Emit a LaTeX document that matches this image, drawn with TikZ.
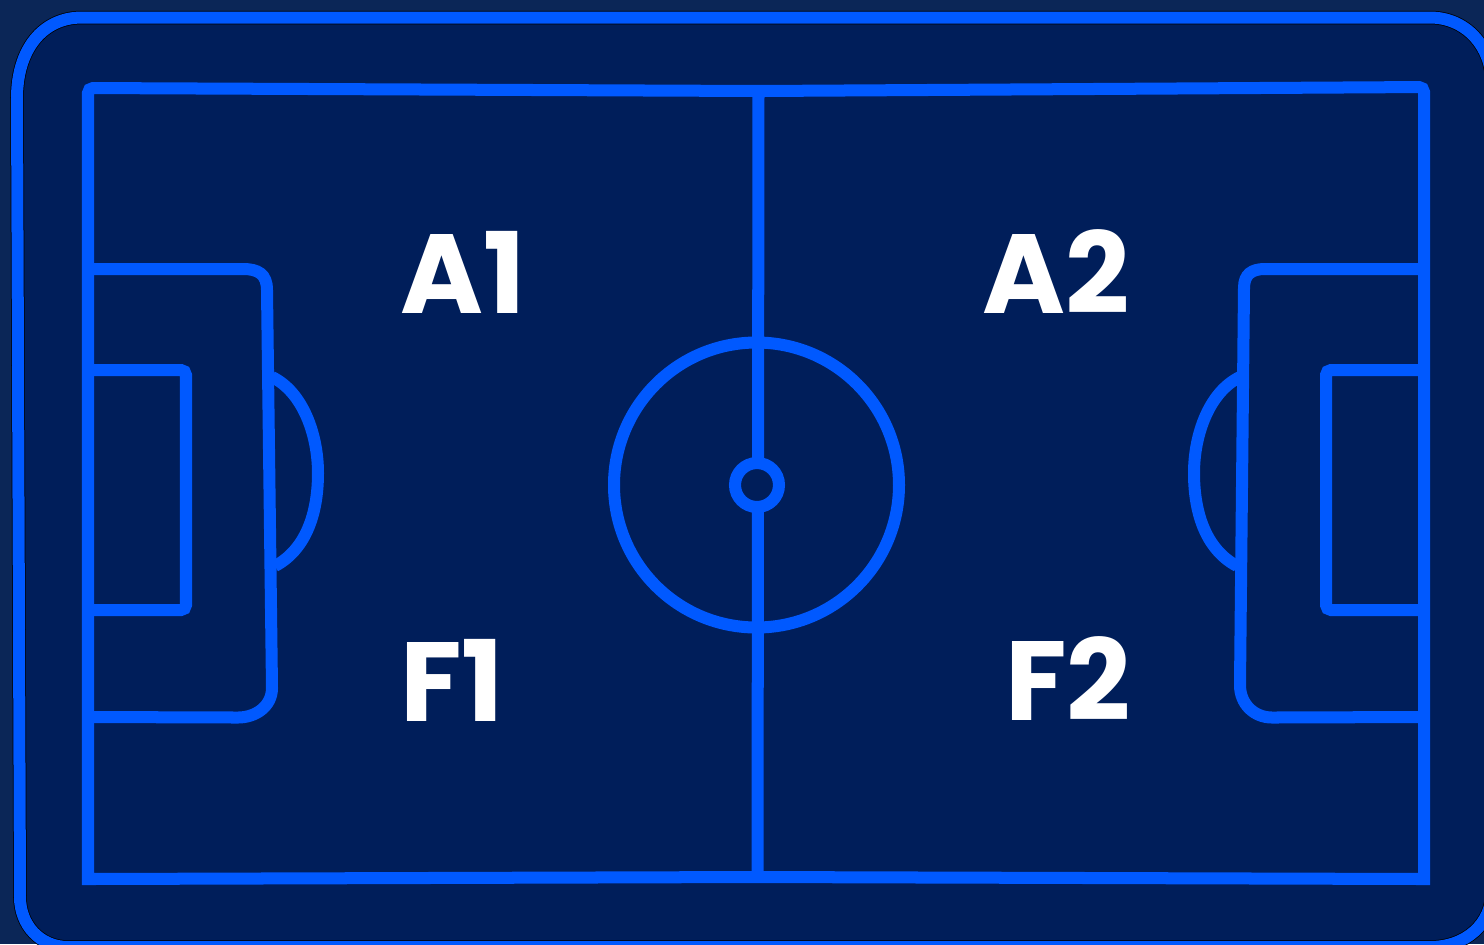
\documentclass[tikz,border=0pt]{standalone}
\usepackage{fontspec}
\setmainfont{Poppins}
\usepackage{tikz}

\definecolor{pagebg}{HTML}{0B2657}
\definecolor{pitchbg}{HTML}{001E5A}
\definecolor{lineblue}{HTML}{0059FF}

\begin{document}
\begin{tikzpicture}[
  x=0.01cm, y=-0.01cm,
  pitchline/.style = {draw=lineblue, line width=0.12cm},
  zonelabel/.style = {anchor=base, inner sep=0pt, text=white,
                      font=\fontsize{32}{36}\selectfont\bfseries},
]

\useasboundingbox (0, 0) rectangle (1484, 944);
\clip (0, 0) rectangle (1484, 944);
\fill[pagebg] (0, 0) rectangle (1484, 944);

%% ══ OUTER FRAME ═════════════════════════════════════════════════════════
\draw[black, line width=0.135cm, fill=pitchbg]
  (82, 17.5) -- (1430, 17.5) .. controls (1465, 17.5) and (1492, 45) .. (1492, 85)
  -- (1492, 890) .. controls (1492, 925) and (1465, 947) .. (1430, 947)
  -- (68, 947) .. controls (40, 947) and (20, 925) .. (20, 897)
  -- (17, 98) .. controls (17, 50) and (42, 17.5) .. (82, 17.5) -- cycle;
\draw[pitchline]
  (82, 17.5) -- (1430, 17.5) .. controls (1465, 17.5) and (1492, 45) .. (1492, 85)
  -- (1492, 890) .. controls (1492, 925) and (1465, 947) .. (1430, 947)
  -- (68, 947) .. controls (40, 947) and (20, 925) .. (20, 897)
  -- (17, 98) .. controls (17, 50) and (42, 17.5) .. (82, 17.5) -- cycle;

%% ══ TOUCH LINES AND HALFWAY LINE ════════════════════════════════════════
\draw[pitchline]
  (88, 879) [rounded corners=0.05cm] -- (88, 88) -- (759, 91) -- (1424, 87)
  [sharp corners] -- (1424, 879) -- (757, 877) -- cycle;
\draw[pitchline] (758.5, 91) -- (757.5, 877);

%% ── Centre circle and spot ───────────────────────────────────────────────
\draw[pitchline] (756.5, 485) circle (142.5);
\draw[pitchline, fill=pitchbg] (757, 485) circle (22);

%% ══ LEFT END ════════════════════════════════════════════════════════════
\draw[pitchline]
  (88, 269) -- (243, 269) .. controls (258, 269) and (267, 274) .. (267, 290)
  -- (272, 688) .. controls (272, 706) and (256, 717.5) .. (238, 717.5) -- (88, 717);
\draw[pitchline, rounded corners=0.05cm]
  (88, 370) -- (186, 370) -- (186, 610) -- (88, 610);
\draw[pitchline]
  (272, 377) .. controls (303, 392) and (318, 435) .. (318, 473)
  .. controls (318, 515) and (305, 550) .. (275, 566);

%% ══ RIGHT END ═══════════════════════════════════════════════════════════
\draw[pitchline]
  (1424, 269) -- (1265, 269) .. controls (1252, 269) and (1244, 274) .. (1244, 288)
  -- (1240, 685) .. controls (1240, 704) and (1254, 717.5) .. (1272, 717.5) -- (1424, 717);
\draw[pitchline, rounded corners=0.05cm]
  (1424, 370) -- (1326, 370) -- (1326, 610) -- (1424, 610);
\draw[pitchline]
  (1240, 377) .. controls (1209, 392) and (1194, 435) .. (1194, 473)
  .. controls (1194, 515) and (1207, 550) .. (1237, 566);

%% ══ ZONE LABELS ═════════════════════════════════════════════════════════
\node[zonelabel] at (463, 313) (a1) {A1};
\node[zonelabel] at (1056, 313) (a2) {A2};
\node[zonelabel] at (452, 721) (f1) {F1};
\node[zonelabel] at (1068, 720) (f2) {F2};

\end{tikzpicture}
\end{document}
